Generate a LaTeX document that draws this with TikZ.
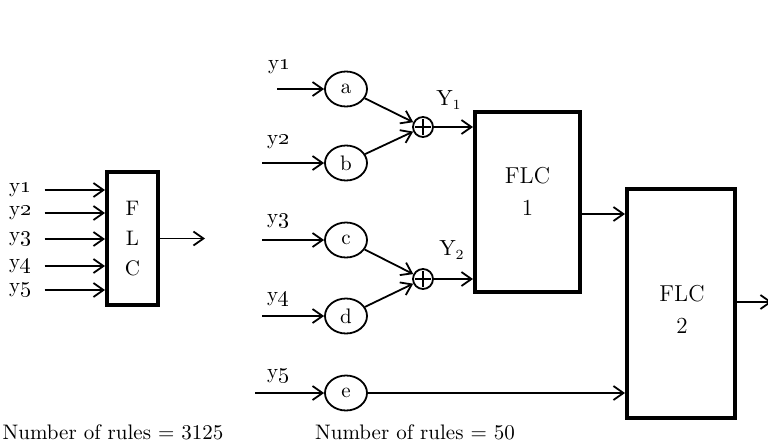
\documentclass[tikz,border=0pt]{standalone}
\usepackage{amsmath}
\usepackage{tikz}
\usetikzlibrary{arrows.meta,shapes.geometric}

\begin{document}
\begin{tikzpicture}[x=0.5pt, y=-0.5pt,
  >={Straight Barb[length=5pt,width=7pt]},
  every node/.style={font=\fontsize{10.5}{12}\selectfont},
  every path/.style={line width=0.9pt},
  flcbox/.style={draw, line width=2pt, inner sep=0pt},
  unit/.style={draw, ellipse, line width=0.9pt, minimum width=21pt,
    minimum height=17.5pt, inner sep=0pt},
  sum/.style={draw, circle, line width=0.9pt, minimum size=10pt, inner sep=0pt,
    path picture={
      \draw ([yshift=-1.2pt]path picture bounding box.north)
        -- ([yshift=1.2pt]path picture bounding box.south);
      \draw ([xshift=1.2pt]path picture bounding box.west)
        -- ([xshift=-1.2pt]path picture bounding box.east);}}]
  \useasboundingbox (0,0) rectangle (768,446);

  % first stage: one controller for all inputs
  \node[flcbox, minimum width=25.5pt, minimum height=66.5pt, align=center,
    font=\fontsize{10.5}{15}\selectfont] (flc) at (132.5,238.5) {F\\L\\C};
  \node (l1) at (20,190) {y\oldstylenums{1}};
  \node (l2) at (20,213) {y\oldstylenums{2}};
  \node (l3) at (20,239) {y\oldstylenums{3}};
  \node (l4) at (20,266) {y\oldstylenums{4}};
  \node (l5) at (20,290) {y\oldstylenums{5}};
  \draw[->, shorten <=3pt] (l1) -- (l1 -| flc.west);
  \draw[->, shorten <=3pt] (l2) -- (l2 -| flc.west);
  \draw[->, shorten <=3pt] (l3) -- (l3 -| flc.west);
  \draw[->, shorten <=3pt] (l4) -- (l4 -| flc.west);
  \draw[->, shorten <=3pt] (l5) -- (l5 -| flc.west);
  \coordinate (flcout) at (205,238.5);
  \draw[->] (flc) -- (flcout);
  \node (rules1) at (113,432) {Number of rules = 3125};

  % second stage: hierarchy
  \node[unit] (a) at (346,89) {a};
  \node[unit] (b) at (346,163) {b};
  \node[unit] (c) at (346,240) {c};
  \node[unit] (d) at (346,316) {d};
  \node[unit] (e) at (346,393) {e};
  \coordinate (ina) at (277,89);
  \coordinate (inb) at (262,163);
  \coordinate (inc) at (262,240);
  \coordinate (ind) at (262,316);
  \coordinate (ine) at (255,393);
  \node (ya) at (279,67) {y\oldstylenums{1}};
  \node (yb) at (278,142) {y\oldstylenums{2}};
  \node (yc) at (278,221) {y\oldstylenums{3}};
  \node (yd) at (278,299) {y\oldstylenums{4}};
  \node (ye) at (278,376) {y\oldstylenums{5}};
  \draw[->] (ina) -- (a);
  \draw[->] (inb) -- (b);
  \draw[->] (inc) -- (c);
  \draw[->] (ind) -- (d);
  \draw[->] (ine) -- (e);

  \node[sum] (s1) at (423,127) {};
  \node[sum] (s2) at (423,279) {};
  \draw[->] (a) -- (s1);
  \draw[->] (b) -- (s1);
  \draw[->] (c) -- (s2);
  \draw[->] (d) -- (s2);

  \node[flcbox, minimum width=52.5pt, minimum height=90pt] (flc1) at (527.5,202) {};
  \node[align=center, font=\fontsize{11.5}{16}\selectfont] (flc1txt) at (527.5,191) {FLC\\1};
  \node[flcbox, minimum width=54pt, minimum height=114.5pt] (flc2) at (681,303.5) {};
  \node[align=center, font=\fontsize{11.5}{16}\selectfont] (flc2txt) at (682,309.5) {FLC\\2};

  \draw[->] (s1) -- (s1 -| flc1.west);
  \draw[->] (s2) -- (s2 -| flc1.west);
  \node (Y1) at (449,100) {$\mathrm{Y}_1$};
  \node (Y2) at (452,250) {$\mathrm{Y}_2$};

  \coordinate (flc1out) at (580,214);
  \draw[->] (flc1out) -- (flc1out -| flc2.west);
  \draw[->] (e) -- (e -| flc2.west);
  \coordinate (flc2out) at (772,302);
  \draw[->] (flc2.east |- flc2out) -- (flc2out);
  \node (rules2) at (415,432) {Number of rules = 50};
\end{tikzpicture}
\end{document}
